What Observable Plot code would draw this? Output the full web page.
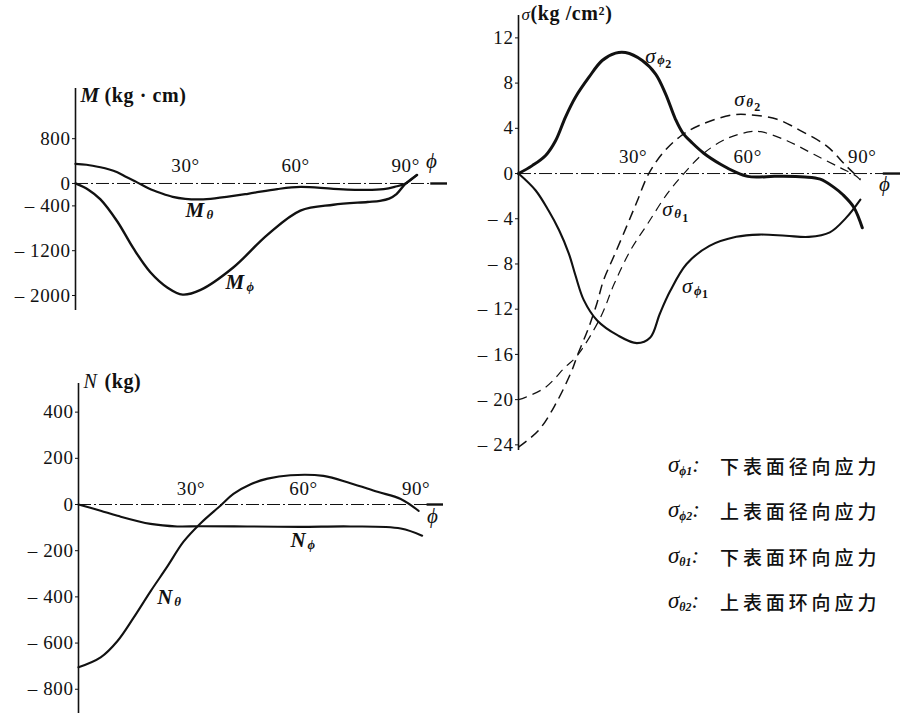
<!DOCTYPE html>
<html>
<head>
<meta charset="utf-8">
<script src="https://cdn.jsdelivr.net/npm/d3@7"></script>
<script src="https://cdn.jsdelivr.net/npm/@observablehq/plot@0.6"></script>
<style>
  body { margin: 0; background: #fff; }
  #wrap { position: relative; width: 901px; height: 715px; overflow: hidden; background: #fff; color: #111; }
  .panel { position: absolute; }
  .panel svg text { letter-spacing: 0.6px; }
  .legend { position: absolute; left: 668px; top: 443px; font-family: "Liberation Serif", serif; color: #111; }
  .legend .row { height: 45.3px; display: flex; align-items: center; white-space: nowrap; }
  .legend .sym { font-style: italic; font-size: 23px; width: 52px; display: inline-block; font-family: "Liberation Serif", serif; }
  .legend .sym sub { font-size: 12px; font-style: italic; font-weight: bold; vertical-align: -3px; }
  .legend .zh { font-family: "Noto Sans CJK SC", sans-serif; font-size: 19px; letter-spacing: 3.9px; font-weight: 500; }
</style>
</head>
<body>
<div id="wrap"></div>
<script>
// ---------- data ----------
// x-axis tick labels (degrees)
const degTicks = [30, 60, 90];
const degLabels = ["30°", "60°", "90°"];

// Panel M (kg·cm)
const mTicks = [800, 0, -400, -1200, -2000];
const mTickLabels = ["800", "0", "– 400", "– 1200", "– 2000"];
const mPhiDeg = [0, 3.5, 6.8, 11.4, 15.8, 20.4, 25.1, 29.2, 34.1, 43, 52.3, 61.3, 70.3, 79.6, 83, 85.5, 87.5, 89.9, 93.1];
const mPhiVal = [0, -110, -284, -679, -1160, -1584, -1860, -1984, -1900, -1500, -918, -484, -379, -330, -310, -270, -190, -9, 152];
const mThetaDeg = [0, 3, 6.8, 9, 11.4, 14, 16.8, 20, 23.2, 26.5, 29.9, 34, 38, 47, 55, 61.3, 70.3, 79.4, 84, 87, 90, 93];
const mThetaVal = [351, 335, 290, 255, 200, 110, 20, -90, -171, -240, -275, -285, -266, -184, -100, -62, -95, -115, -100, -60, 0, 152];
const mLabelMain = ["M", "M"];
const mLabelSub = ["θ", "ϕ"];
const mLabelX = [30, 40.9];
const mLabelY = [-482, -1768];

// Panel N (kg)
const nTicks = [400, 200, 0, -200, -400, -600, -800];
const nTickLabels = ["400", "200", "0", "– 200", "– 400", "– 600", "– 800"];
const nThetaDeg = [0, 5.9, 10.4, 14.7, 19.2, 23.7, 28, 32.5, 37.9, 41.3, 45.9, 50.4, 56.5, 65.3, 72.5, 79.7, 85.9, 90.7];
const nThetaVal = [-705, -662, -591, -490, -376, -268, -161, -82, -4, 46, 88, 112, 127, 124, 92, 55, 24, -28];
const nPhiDeg = [0, 5.9, 10.4, 19.2, 26.3, 32.5, 45, 59, 72.5, 85.9, 91.6];
const nPhiVal = [0, -27, -49, -84, -95, -94, -95, -97, -95, -104, -135];
const nLabelMain = ["N", "N"];
const nLabelSub = ["θ", "ϕ"];
const nLabelX = [21, 56.5];
const nLabelY = [-403, -156];

// Panel σ (kg/cm²)
const sTicks = [12, 8, 4, 0, -4, -8, -12, -16, -20, -24];
const sTickLabels = ["12", "8", "4", "0", "– 4", "– 8", "– 12", "– 16", "– 20", "– 24"];
const sPhi2Deg = [0, 3.6, 7.1, 9.7, 12.3, 14.9, 18.4, 21.9, 25.4, 28, 32.4, 35.9, 38.5, 41.1, 43, 45.5, 48.5, 53, 57, 60, 63, 67, 75, 79, 82.5, 85, 87.8, 90];
const sPhi2Val = [0, 0.7, 1.6, 2.9, 5.0, 6.75, 8.5, 10.0, 10.65, 10.7, 10.0, 8.8, 7.05, 4.8, 3.6, 2.7, 1.8, 0.8, 0.1, -0.25, -0.3, -0.25, -0.3, -0.5, -1.2, -1.9, -3.0, -4.8];
const sPhi1Deg = [0, 4.5, 7.9, 10.6, 13.2, 14.9, 17.1, 20.6, 25.9, 31, 34.5, 37, 39.7, 44, 50, 57, 63, 70, 76, 81.5, 85.8, 89.5];
const sPhi1Val = [0, -1.5, -3.3, -5.0, -7.1, -9.0, -11.2, -13.0, -14.3, -15.0, -14.5, -12.4, -10.4, -8.0, -6.4, -5.6, -5.4, -5.5, -5.6, -5.2, -3.9, -2.3];
const sTheta2Deg = [0, 5.3, 9.7, 14, 15.4, 18.4, 20.6, 22.3, 25, 28.4, 31, 34.1, 38, 42.4, 47.6, 56.3, 60.7, 67.7, 73.8, 80.8, 86, 89.5];
const sTheta2Val = [-24.2, -22.7, -20.4, -17.4, -16.1, -13.6, -11.4, -9.4, -7.3, -4.6, -2.5, 0, 1.9, 3.3, 4.3, 5.2, 5.2, 4.8, 3.8, 2.4, 0.6, -0.5];
const sTheta1Deg = [0, 1.8, 7.1, 12.3, 15.4, 21.5, 25, 29.3, 33.7, 38.9, 43.3, 48.5, 54.6, 60.7, 63.4, 70.3, 77.3, 84.3, 88.7, 90];
const sTheta1Val = [-20, -19.8, -18.9, -17.1, -16.1, -12.7, -9.8, -6.8, -4.5, -1.8, 0, 1.8, 3.1, 3.7, 3.7, 2.9, 1.7, 0.5, -0.3, -0.8];
const sLabelSub = ["ϕ", "θ", "θ", "ϕ"];
const sLabelIdx = ["2", "2", "1", "1"];
const sLabelX = [33.2, 56.5, 37.6, 42.8];
const sLabelY = [10.4, 6.6, -3.2, -10.0];

// Legend
const legendSub = ["ϕ1", "ϕ2", "θ1", "θ2"];
const legendText = ["下表面径向应力", "上表面径向应力", "下表面环向应力", "上表面环向应力"];

// ---------- helpers ----------
const SERIF = "'Liberation Serif', 'DejaVu Serif', serif";
const INK = "#111";

function axisMarks(yTicks, yLabels, xMax, degDy, phiDx, phiDy) {
  const fmt = new Map(yTicks.map((t, i) => [t, yLabels[i]]));
  return [
    Plot.ruleY([0], {stroke: INK, strokeWidth: 1, strokeDasharray: "13,3,2,3"}),
    Plot.ruleY([0], {x1: () => xMax * 0.955, x2: () => xMax, stroke: INK, strokeWidth: 2.4}),
    Plot.ruleX([0], {stroke: INK, strokeWidth: 1.6}),
    Plot.axisY({ticks: yTicks, tickFormat: d => fmt.get(d), tickSize: 3, tickPadding: 2,
      fontSize: 19, fontFamily: SERIF, label: null, stroke: INK, fill: INK}),
    Plot.text(degTicks, {x: d => d, y: () => 0, text: (d, i) => degLabels[i], dy: degDy,
      fontSize: 19, fontFamily: SERIF, fill: INK}),
    Plot.text(["ϕ"], {frameAnchor: "right", y: () => 0, text: d => d, dx: phiDx, dy: phiDy,
      fontSize: 21, fontStyle: "italic", fontFamily: SERIF, fill: INK})
  ];
}

function makePlot(o) {
  return Plot.plot({
    width: o.width, height: o.height,
    marginLeft: o.ml, marginRight: o.mr, marginTop: o.mt, marginBottom: o.mb,
    x: {domain: [0, o.xMax], axis: null},
    y: {domain: o.yDomain, axis: null},
    style: {fontFamily: SERIF, fontSize: "19px", background: "transparent", overflow: "visible", color: INK},
    marks: o.marks
  });
}

function curve(xs, ys, opts) {
  return Plot.line(d3.zip(xs, ys), {x: d => d[0], y: d => d[1], curve: "catmull-rom",
    stroke: INK, strokeLinecap: "round", ...opts});
}

function mainSubLabels(xs, ys, mains, subs, subDx) {
  return [
    Plot.text(xs, {x: d => d, y: (d, i) => ys[i], text: (d, i) => mains[i], textAnchor: "start",
      fontSize: 21, fontStyle: "italic", fontWeight: "bold", fontFamily: SERIF, fill: INK}),
    Plot.text(xs, {x: d => d, y: (d, i) => ys[i], text: (d, i) => subs[i], textAnchor: "start",
      dx: subDx, dy: 4, fontSize: 13, fontStyle: "italic", fontWeight: "bold", fontFamily: SERIF, fill: INK})
  ];
}

const wrap = document.getElementById("wrap");
function place(node, left, top) {
  const div = document.createElement("div");
  div.className = "panel";
  div.style.left = left + "px";
  div.style.top = top + "px";
  div.appendChild(node);
  wrap.appendChild(div);
}

// ---------- panel M ----------
const plotM = makePlot({
  width: 460, height: 320, ml: 75, mr: 13, mt: 88, mb: 10,
  xMax: 101.4, yDomain: [-2268, 1696],
  marks: [
    ...axisMarks(mTicks, mTickLabels, 101.4, -18, -10, -22),
    curve(mPhiDeg, mPhiVal, {strokeWidth: 2.4}),
    curve(mThetaDeg, mThetaVal, {strokeWidth: 2.2}),
    ...mainSubLabels(mLabelX, mLabelY, mLabelMain, mLabelSub, 21),
    Plot.text(["M"], {frameAnchor: "top-left", text: d => d, dx: 5, dy: -1, lineAnchor: "top",
      fontSize: 21, fontStyle: "italic", fontWeight: "bold", fontFamily: SERIF, fill: INK}),
    Plot.text(["(kg · cm)"], {frameAnchor: "top-left", text: d => d, dx: 29, dy: -1, lineAnchor: "top",
      fontSize: 20, fontWeight: "bold", fontFamily: SERIF, fill: INK})
  ]
});
place(plotM, 0, 0);

// ---------- panel N ----------
const plotN = makePlot({
  width: 460, height: 345, ml: 78, mr: 17, mt: 13, mb: 2,
  xMax: 97.3, yDomain: [-905, 524],
  marks: [
    ...axisMarks(nTicks, nTickLabels, 97.3, -16, -5, 12),
    curve(nThetaDeg, nThetaVal, {strokeWidth: 2.1}),
    curve(nPhiDeg, nPhiVal, {strokeWidth: 2.1}),
    ...mainSubLabels(nLabelX, nLabelY, nLabelMain, nLabelSub, 17),
    Plot.text(["N"], {frameAnchor: "top-left", text: d => d, dx: 5, dy: -10, lineAnchor: "top",
      fontSize: 20, fontStyle: "italic", fontFamily: SERIF, fill: INK}),
    Plot.text(["(kg)"], {frameAnchor: "top-left", text: d => d, dx: 26, dy: -10, lineAnchor: "top",
      fontSize: 20, fontWeight: "bold", fontFamily: SERIF, fill: INK})
  ]
});
place(plotN, 0, 370);

// ---------- panel σ ----------
const plotS = makePlot({
  width: 441, height: 460, ml: 58, mr: 1, mt: 15, mb: 10,
  xMax: 100, yDomain: [-24.5, 13.98],
  marks: [
    ...axisMarks(sTicks, sTickLabels, 100, -17, -10, 11),
    curve(sTheta2Deg, sTheta2Val, {strokeWidth: 1.5, strokeDasharray: "10,6", strokeLinecap: "butt"}),
    curve(sTheta1Deg, sTheta1Val, {strokeWidth: 1.2, strokeDasharray: "9,6", strokeLinecap: "butt"}),
    curve(sPhi1Deg, sPhi1Val, {strokeWidth: 2.1}),
    curve(sPhi2Deg, sPhi2Val, {strokeWidth: 3}),
    Plot.text(sLabelX, {x: d => d, y: (d, i) => sLabelY[i], text: () => "σ", textAnchor: "start",
      fontSize: 21, fontStyle: "italic", fontFamily: SERIF, fill: INK}),
    Plot.text(sLabelX, {x: d => d, y: (d, i) => sLabelY[i], text: (d, i) => sLabelSub[i], textAnchor: "start",
      dx: 12, dy: 4, fontSize: 13, fontStyle: "italic", fontWeight: "bold", fontFamily: SERIF, fill: INK}),
    Plot.text(sLabelX, {x: d => d, y: (d, i) => sLabelY[i], text: (d, i) => sLabelIdx[i], textAnchor: "start",
      dx: 20, dy: 8, fontSize: 12, fontWeight: "bold", fontFamily: SERIF, fill: INK}),
    Plot.text(["σ"], {frameAnchor: "top-left", text: d => d, dx: 3, dy: -8, lineAnchor: "top",
      fontSize: 17, fontStyle: "italic", fontFamily: SERIF, fill: INK}),
    Plot.text(["(kg /cm²)"], {frameAnchor: "top-left", text: d => d, dx: 12, dy: -10, lineAnchor: "top",
      fontSize: 20, fontWeight: "bold", fontFamily: SERIF, fill: INK})
  ]
});
place(plotS, 460, 0);

// ---------- legend ----------
const legend = document.createElement("div");
legend.className = "legend";
legendSub.forEach((s, i) => {
  const row = document.createElement("div");
  row.className = "row";
  const sym = document.createElement("span");
  sym.className = "sym";
  sym.innerHTML = "σ<sub>" + s + "</sub>:";
  const zh = document.createElement("span");
  zh.className = "zh";
  zh.textContent = legendText[i];
  row.appendChild(sym);
  row.appendChild(zh);
  legend.appendChild(row);
});
wrap.appendChild(legend);
</script>
</body>
</html>
